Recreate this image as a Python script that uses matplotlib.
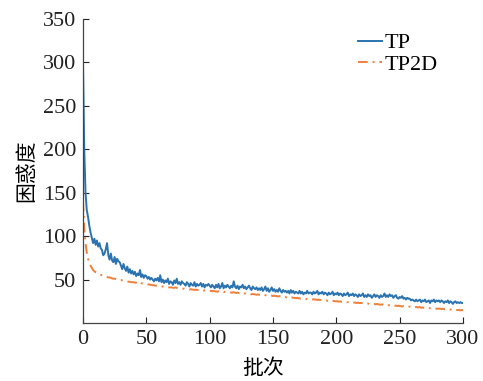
import numpy as np
import matplotlib
matplotlib.use("Agg")
import matplotlib.pyplot as plt

plt.rcParams['font.family'] = ['Liberation Serif', 'Noto Sans CJK SC']

tp = [
    300, 200, 150, 130, 122, 112, 104, 98, 92, 97, 90, 95, 88, 92, 86, 84, 78, 80, 85, 92,
    78, 73, 80, 72, 70, 76, 68, 74, 71, 70, 66, 62, 68, 63, 60, 65, 58, 62, 57, 60,
    56, 59, 54, 57, 55, 61, 53, 56, 52, 55, 54, 51, 53, 50, 52, 50, 48, 51, 49, 52,
    48, 55, 47, 50, 46, 49, 47, 51, 45, 48, 47, 44, 49, 46, 51, 45, 47, 44, 48, 46,
    45, 43, 47, 45, 42, 46, 44, 43, 47, 42, 45, 43, 44, 46, 42, 45, 41, 44, 43, 45,
    43, 41, 44, 42, 40, 44, 41, 45, 40, 42, 46, 40, 43, 41, 44, 42, 40, 43, 41, 48,
    42, 40, 43, 39, 42, 41, 44, 40, 42, 39, 41, 43, 40, 38, 42, 40, 39, 41, 38, 40,
    38, 41, 37, 39, 42, 37, 40, 36, 38, 41, 37, 39, 36, 38, 36, 40, 37, 35, 38, 36,
    37, 35, 37, 34, 38, 35, 37, 34, 36, 35, 34, 37, 34, 36, 33, 35, 34, 37, 34, 35,
    35, 33, 36, 34, 35, 37, 33, 35, 34, 36, 33, 35, 34, 32, 35, 33, 34, 36, 32, 34,
    33, 35, 32, 34, 33, 31, 34, 32, 33, 35, 31, 33, 32, 34, 31, 33, 32, 30, 33, 31,
    32, 34, 30, 32, 30, 33, 31, 32, 29, 31, 33, 30, 32, 31, 29, 32, 30, 31, 34, 30,
    32, 30, 33, 31, 32, 29, 31, 32, 29, 28, 30, 29, 31, 28, 29, 27, 29, 28, 28, 26,
    27, 26, 25, 27, 25, 26, 27, 24, 26, 25, 27, 24, 25, 26, 23, 26, 25, 27, 24, 26,
    25, 26, 24, 26, 25, 23, 25, 24, 26, 23, 25, 24, 22, 24, 25, 23, 24, 23, 24, 23, 23,
]

tp2d = [
    140, 110, 92, 81, 74, 69.5, 66, 63.5, 61, 59.5, 58.5, 57.5, 56.5, 56, 55.5, 55, 54.5, 54, 53.5, 53,
    52.5, 52.5, 52, 51.5, 51, 51, 50.5, 50, 50, 49.5, 49.5, 49, 48.5, 48.5, 48, 48, 47.5, 47.5, 47, 47,
    47, 46.5, 46.5, 46, 46.5, 47.5, 46, 45.5, 45.5, 45, 45, 44.5, 44.5, 44, 44, 43.5, 43.5, 43, 43, 43,
    42.5, 42.5, 42, 42, 42, 41.5, 41.5, 41.5, 41, 41, 41, 40.5, 40.5, 41, 40.5, 40, 40, 40, 39.5, 39.5,
    39.5, 39, 39, 39, 38.5, 39, 38.5, 38.5, 38, 38.5, 38, 38, 38, 37.5, 38, 37.5, 37.5, 37, 37.5, 37,
    37, 37, 36.5, 37, 36.5, 36.5, 36, 36.5, 36, 36, 36.5, 35.5, 36, 35.5, 35.5, 35, 35.5, 35, 35, 35.5,
    35, 34.5, 35, 34.5, 34.5, 34, 34.5, 34, 34, 33.5, 34, 33.5, 33.5, 33, 33.5, 33, 33, 32.5, 33, 32.5,
    32.5, 32.5, 32, 32.5, 32, 32, 31.5, 32, 31.5, 31.5, 31, 31.5, 31, 31, 30.5, 31, 30.5, 30, 30.5, 30,
    30, 29.5, 30, 29.5, 29, 29.5, 29, 29, 28.5, 29, 28.5, 28.5, 28, 28.5, 28, 28, 27.5, 28, 27.5, 27.5,
    27.5, 27, 27.5, 27, 27, 26.5, 27, 26.5, 26.5, 26, 26.5, 26, 26, 25.5, 26, 25.5, 25.5, 25, 25.5, 25,
    25, 25, 24.5, 25, 24.5, 24.5, 24, 24.5, 24, 24, 24, 23.5, 24, 23.5, 23.5, 23.5, 23, 23.5, 23, 23,
    23, 23, 22.5, 23, 22.5, 22.5, 22, 22.5, 22, 22, 22, 21.5, 22, 21.5, 21.5, 21, 21.5, 21, 21, 20.5,
    21, 20.5, 20.5, 20.5, 20, 20.5, 20, 20, 19.5, 20, 19.5, 19.5, 19, 19.5, 19, 19, 19, 18.5, 19, 18.5,
    18.5, 18.5, 18, 18.5, 18, 18, 18.5, 17.5, 18, 17.5, 17.5, 17.5, 17, 17.5, 17, 17, 17, 16.5, 17, 16.5,
    16.5, 16.5, 16.5, 16, 16.5, 16, 16, 16, 15.5, 16, 15.5, 15.5, 15.5, 15, 15.5, 15, 15, 15, 14.5, 15, 14.5,
]

batches = np.arange(len(tp))
xticks = [0, 50, 100, 150, 200, 250, 300]
yticks = [50, 100, 150, 200, 250, 300, 350]

fig = plt.figure(figsize=(4.83, 3.81), dpi=100)
ax = fig.add_axes([0.1718, 0.1522, 0.7868, 0.7979])

ax.plot(batches, tp, color='#2a72b0', lw=1.4, label='TP')
ax.plot(batches, tp2d, color='#f07f3a', lw=1.4, ls=(0, (5, 2.5, 1, 2.5)), label='TP2D')

ax.set_xlim(0, 300)
ax.set_ylim(0, 350)
ax.set_xticks(xticks)
ax.set_yticks(yticks)
ax.tick_params(direction='in', length=4, labelsize=16, colors='#222222', width=0.8, pad=5)
for s in ['top', 'right']:
    ax.spines[s].set_visible(False)
for s in ['left', 'bottom']:
    ax.spines[s].set_color('#444444')
    ax.spines[s].set_linewidth(0.9)

ax.set_xlabel('批次', fontsize=15, family=['Noto Sans CJK SC'], labelpad=6)
ax.xaxis.label.set_x(0.474)
ax.set_ylabel('困惑度', fontsize=15, family=['Noto Sans CJK SC'], labelpad=4)

ax.legend(loc='upper right', bbox_to_anchor=(0.985, 1.02), frameon=False, fontsize=16,
          handlelength=1.1, handletextpad=0.1, labelspacing=0.05)

fig.savefig('out.png', dpi=100)
